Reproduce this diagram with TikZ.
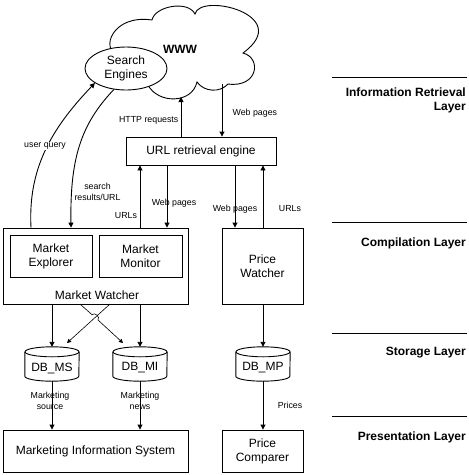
\documentclass[tikz,border=0pt]{standalone}
\usepackage{fontspec}
\setmainfont{Liberation Sans}
\usetikzlibrary{arrows.meta,shapes.geometric,calc}
\tikzset{
  ln/.style={line width=0.9pt},
  box/.style={draw, line width=0.9pt, inner sep=0pt, align=center, font=\fontsize{12}{14}\selectfont},
  txt/.style={inner sep=0pt, align=center, font=\fontsize{12}{14}\selectfont},
  lbl/.style={inner sep=0.5pt, align=center, font=\fontsize{8.8}{10.8}\selectfont},
  layer/.style={anchor=east, align=right, inner sep=0pt, font=\bfseries\fontsize{12}{14}\selectfont},
  arr/.style={line width=0.9pt, -{Triangle[length=5pt,width=5pt]}},
  thinarr/.style={line width=0.6pt, -{Triangle[length=4pt,width=4pt]}},
  db/.style={inner sep=0pt, minimum width=54pt, minimum height=34pt},
  sep/.style={line width=0.9pt}
}
\begin{document}
\begin{tikzpicture}[x=1pt,y=-1pt]
\useasboundingbox (0,0) rectangle (469,475);
% cloud
\draw[ln, fill=white] (118,55) .. controls (100,50) and (112,14) .. (152,20)
  .. controls (155,6) and (188,0) .. (195,14)
  .. controls (200,-8) and (295,15) .. (243,53)
  .. controls (262,58) and (258,88) .. (228,84)
  .. controls (220,93) and (204,92) .. (197,82)
  .. controls (192,104) and (158,104) .. (148,85) -- cycle;
\node[font=\bfseries\fontsize{12}{14}\selectfont, inner sep=0pt] (www) at (180,49) {WWW};
\node[draw, ln, ellipse, fill=white, minimum width=82pt, minimum height=43pt, inner sep=0pt,
      align=center, font=\fontsize{12}{14}\selectfont] (se) at (126,68.5) {Search\\Engines};

% boxes
\node[box, minimum width=150pt, minimum height=28pt] (url) at (201,151) {URL retrieval engine};
\node[box, minimum width=185pt, minimum height=76pt] (mw) at (95.5,266) {};
\node[txt] (mwl) at (97,295) {Market Watcher};
\node[box, minimum width=82pt, minimum height=42pt] (me) at (51,256) {Market\\Explorer};
\node[box, minimum width=83pt, minimum height=42pt] (mm) at (140.5,256) {Market\\Monitor};
\node[box, minimum width=81pt, minimum height=76pt] (pw) at (262.5,266) {Price\\Watcher};
\node[box, minimum width=185pt, minimum height=42pt] (mis) at (95.5,451) {Marketing Information System};
\node[box, minimum width=81pt, minimum height=42pt] (pc) at (262.5,451) {Price\\Comparer};

% databases
\node[db] (dbms) at (52,364) {};
\node[db] (dbmi) at (140,364) {};
\node[db] (dbmp) at (263,364) {};
\foreach \n in {dbms,dbmi,dbmp}{
  \draw[ln] ([yshift=-5pt]\n.north) ellipse[x radius=27pt, y radius=5pt];
  \draw[ln] ([yshift=-5pt]\n.north west) -- ([yshift=5pt]\n.south west)
     arc[start angle=180, end angle=360, x radius=27pt, y radius=5pt]
     -- ([yshift=-5pt]\n.north east);
}
\node[txt] (tms) at (52,368) {DB\_MS};
\node[txt] (tmi) at (140,368) {DB\_MI};
\node[txt] (tmp) at (263,368) {DB\_MP};

% column coordinates
\coordinate (cA) at (31,0);
\coordinate (cB) at (71,0);
\coordinate (cC) at (140,0);
\coordinate (cD) at (167,0);
\coordinate (cG) at (235,0);
\coordinate (cH) at (263,0);
\coordinate (httpT) at (181,97);
\coordinate (webS) at (222,84);

% WWW <-> URL engine
\draw[arr] (url.north -| httpT) -- (httpT);
\draw[arr] (webS) -- (url.north -| webS);
\node[lbl, anchor=east] (lhttp) at (179,120) {HTTP requests};
\node[lbl, anchor=west] (lweb1) at (232,113) {Web pages};

% search engines
\draw[arr] (mw.north -| cA) .. controls (28,170) and (50,130) .. (se.-155);
\draw[arr] (se.-120) .. controls (80,125) and (70,160) .. (mw.north -| cB);
\node[lbl, fill=white] (luq) at (45,146) {user query};
\node[lbl] (lsr) at (97.5,192) {search\\results/URL};

% URL engine <-> watchers
\draw[arr] (mw.north -| cC) -- (url.south -| cC);
\draw[arr] (url.south -| cD) -- (mw.north -| cD);
\draw[arr] (url.south -| cG) -- (pw.north -| cG);
\draw[arr] (pw.north -| cH) -- (url.south -| cH);
\node[lbl] (lurl1) at (126,216) {URLs};
\node[lbl] (lweb2) at (174,203) {Web pages};
\node[lbl] (lweb3) at (235,209) {Web pages};
\node[lbl] (lurl2) at (290,209) {URLs};

% watchers -> databases
\draw[arr] (mw.south -| dbms.north) -- (dbms.north);
\draw[arr] (mw.south -| dbmi.north) -- (dbmi.north);
\draw[arr] (pw.south -| dbmp.north) -- (dbmp.north);
\coordinate (xa) at (80,304);
\coordinate (xb) at (110,304);
\coordinate (ta) at (123,343);
\coordinate (tb) at (67,343);
\draw[thinarr] (xa) -- (92,314.7) .. controls (94.6,311.7) and (100.6,317) .. (98,320) -- (ta);
\draw[thinarr] (xb) -- (tb);

% databases -> presentation
\draw[arr] (dbms.south) -- (mis.north -| dbms.south);
\draw[arr] (dbmi.south) -- (mis.north -| dbmi.south);
\draw[arr] (dbmp.south) -- (pc.north -| dbmp.south);
\node[lbl] (lms) at (50,401) {Marketing\\source};
\node[lbl] (lmn) at (140,401) {Marketing\\news};
\node[lbl] (lpr) at (290,405) {Prices};

% layers
\draw[sep] (332,77) -- (467,77);
\draw[sep] (332,222) -- (467,222);
\draw[sep] (332,333) -- (467,333);
\draw[sep] (332,416) -- (467,416);
\node[layer] (l1) at (466,100) {Information Retrieval\\Layer};
\node[layer] (l2) at (466,243) {Compilation Layer};
\node[layer] (l3) at (466,353) {Storage Layer};
\node[layer] (l4) at (466,437) {Presentation Layer};
\end{tikzpicture}
\end{document}
